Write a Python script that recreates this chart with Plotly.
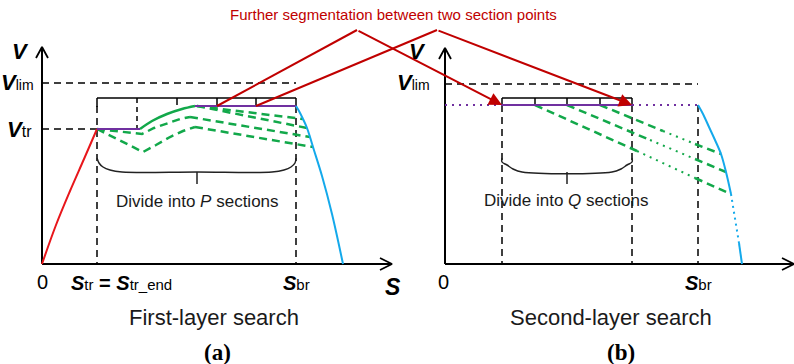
import plotly.graph_objects as go

# ---------------------------------------------------------------
# Schematic values (distance s, speed v) for each panel
# ---------------------------------------------------------------
# Panel (a): first-layer search
A_S_TR = 55
A_S_BR = 254
A_V_TR = 135
A_V_CRUISE = 158
A_V_LIM = 181
A_V_FRAME = 166
A_SECTIONS = [55, 95, 135, 175, 214, 254]

accel_s = [0, 14, 28, 42, 55]
accel_v = [0, 39, 73, 105, 135]

cruise_low_s = [55, 98]
cruise_low_v = [135, 135]
climb_s = [98, 110, 125, 140, 153]
climb_v = [135, 143, 150, 155, 158]
cruise_high_s = [153, 254]
cruise_high_v = [158, 158]

trial_a_s = [55, 100, 112, 126, 138, 148]
trial_a_v = [135, 130, 136, 141, 145, 147]
trial_b_s = [55, 101, 114, 128, 141, 153]
trial_b_v = [135, 112, 119, 127, 133, 137]

decel_a = [
    ([155, 261], [158, 145]),
    ([155, 265], [158, 136]),
    ([148, 268], [147, 127]),
    ([153, 271], [137, 117]),
]

brake_a_s = [254, 257, 261, 265, 268, 271, 280, 290, 301]
brake_a_v = [158, 153, 145, 136, 127, 117, 88, 50, 0]

brace_a_s = [55, 57, 61, 68, 80, 155, 230, 242, 249, 253, 254]
brace_a_v = [106, 101, 97, 94, 92, 92, 92, 94, 97, 101, 106]

# Panel (b): second-layer search
B_S_START = 57
B_S_END = 187
B_S_BR = 253
B_V_CRUISE = 159
B_V_LIM = 180
B_V_FRAME = 166
B_SECTIONS = [57, 90, 122, 155, 187]

# each decel line: dashed / dotted / dashed pieces
decel_b = [
    ([90, 192, 250, 286], [159, 113, 86, 70]),
    ([122, 205, 250, 281], [159, 124, 105, 92]),
    ([155, 218, 250, 276], [159, 133, 120, 110]),
]

brake_b_s = [253, 258, 264, 270, 276, 281, 286]
brake_b_v = [159, 150, 137, 124, 110, 92, 70]
brake_b_dot_s = [286, 294]
brake_b_dot_v = [70, 21]
brake_b_tail_s = [294, 297]
brake_b_tail_v = [21, 0]

brace_b_s = [57, 57, 62, 68, 77, 167, 176, 182, 187, 187]
brace_b_v = [106, 102, 99, 95, 92, 92, 95, 99, 102, 106]

# ---------------------------------------------------------------
# Styling
# ---------------------------------------------------------------
W, H = 794, 364
ORIGIN_A_PX = 42     # pixel column of panel (a) s = 0
ORIGIN_B_PX = 445    # pixel column of panel (b) s = 0
V_ZERO_FROM_BOTTOM = 100

RED = "#E8161B"
BLUE = "#14A9EB"
GREEN = "#12A84A"
PURPLE = "#7030A0"
DARKRED = "#C00000"
BLACK = "#000000"
TXT = "#1a1a1a"
FONT = "Liberation Sans, Arial, sans-serif"
SERIF = "Liberation Serif, Times New Roman, serif"

BLACK_DASH = "7px,5px"
GREEN_DASH = "8px,5px"
DOTS = "2px,5px"

fig = go.Figure()


def line(s, v, color, width=2, dash="solid", axis="x", spline=False):
    fig.add_trace(go.Scatter(
        x=s, y=v, mode="lines", xaxis=axis, yaxis="y",
        line=dict(color=color, width=width, dash=dash,
                  shape="spline" if spline else "linear", smoothing=1.0),
        hoverinfo="skip", showlegend=False))


def axes_frame(axis, x_end, y_end):
    line([0, 0], [0, y_end], BLACK, 2, axis=axis)
    line([-6, 0, 6], [y_end - 11, y_end, y_end - 11], BLACK, 1.8, axis=axis)
    line([0, x_end], [0, 0], BLACK, 2, axis=axis)
    line([x_end - 12, x_end, x_end - 12], [6, 0, -6], BLACK, 1.8, axis=axis)


# ---------------- Panel (a) ----------------
axes_frame("x", 350, 217)
line([0, A_S_BR], [A_V_LIM, A_V_LIM], BLACK, 1.5, BLACK_DASH)
line([0, A_S_TR], [A_V_TR, A_V_TR], BLACK, 1.5, BLACK_DASH)
for s in (A_S_TR, A_S_BR):
    line([s, s], [A_V_CRUISE, 0], BLACK, 1.5, BLACK_DASH)
    line([s, s], [A_V_FRAME, A_V_CRUISE - 1], BLACK, 1.5)
line([A_S_TR, A_S_BR], [A_V_FRAME, A_V_FRAME], BLACK, 1.5)
line([A_SECTIONS[1]] * 2, [A_V_FRAME, A_V_TR], BLACK, 1.5, "5px,4px")
for s in A_SECTIONS[2:-1]:
    line([s, s], [A_V_FRAME, A_V_CRUISE + 1], BLACK, 1.5)

line(brace_a_s, brace_a_v, "#222222", 1.5, spline=True)
line([155, 155], [92, 80], "#222222", 1.5)

for s, v in decel_a:
    line(s, v, GREEN, 2.5, GREEN_DASH)
line(trial_a_s, trial_a_v, GREEN, 2.5, GREEN_DASH)
line(trial_b_s, trial_b_v, GREEN, 2.5, GREEN_DASH)
line(climb_s, climb_v, GREEN, 2.5, spline=True)
line(accel_s, accel_v, RED, 2, spline=True)
line(cruise_low_s, cruise_low_v, PURPLE, 2)
line(cruise_high_s, cruise_high_v, PURPLE, 2)
line(brake_a_s, brake_a_v, BLUE, 2, spline=True)

# ---------------- Panel (b) ----------------
axes_frame("x2", 349, 216)
line([0, B_S_BR], [B_V_LIM, B_V_LIM], BLACK, 1.5, BLACK_DASH, axis="x2")
for s in (B_S_START, B_S_END, B_S_BR):
    line([s, s], [B_V_CRUISE, 0], BLACK, 1.5, BLACK_DASH, axis="x2")
for s in (B_S_START, B_S_END):
    line([s, s], [B_V_FRAME, B_V_CRUISE - 1], BLACK, 1.5, axis="x2")
line([B_S_START, B_S_END], [B_V_FRAME, B_V_FRAME], BLACK, 1.5, axis="x2")
for s in B_SECTIONS[1:-1]:
    line([s, s], [B_V_FRAME, B_V_CRUISE + 1], BLACK, 1.5, axis="x2")

line(brace_b_s, brace_b_v, "#222222", 1.5, axis="x2", spline=True)
line([122, 122], [92, 80], "#222222", 1.5, axis="x2")

for s, v in decel_b:
    line(s[0:2], v[0:2], GREEN, 2.5, GREEN_DASH, axis="x2")
    line(s[1:3], v[1:3], GREEN, 2, DOTS, axis="x2")
    line(s[2:4], v[2:4], GREEN, 2.5, GREEN_DASH, axis="x2")

line([0, B_S_START], [B_V_CRUISE] * 2, PURPLE, 2, DOTS, axis="x2")
line([B_S_END, B_S_BR], [B_V_CRUISE] * 2, PURPLE, 2, DOTS, axis="x2")
line([B_S_START, B_S_END], [B_V_CRUISE] * 2, PURPLE, 2, axis="x2")
line(brake_b_s, brake_b_v, BLUE, 2, axis="x2", spline=True)
line(brake_b_dot_s, brake_b_dot_v, BLUE, 2, "2px,4px", axis="x2")
line(brake_b_tail_s, brake_b_tail_v, BLUE, 2, axis="x2")

# ---------------- Callout linking the panels ----------------
APEX_PX = [357, 437]
APEX_V = 234
callout_from = [A_SECTIONS[3], A_SECTIONS[4]]
callout_to = [B_S_START, B_S_END]
for s_from, apex_px, s_to in zip(callout_from, APEX_PX, callout_to):
    line([s_from, apex_px - ORIGIN_A_PX], [A_V_CRUISE, APEX_V], DARKRED, 2)
    fig.add_annotation(
        x=s_to, y=B_V_CRUISE, xref="x2", yref="y",
        ax=apex_px - ORIGIN_B_PX, ay=APEX_V, axref="x2", ayref="y",
        text="", showarrow=True, arrowhead=2, arrowsize=1.3,
        arrowwidth=2, arrowcolor=DARKRED)

# ---------------- Text ----------------
def label(text, x, y, axis="x", size=17, xanchor="center", color=BLACK,
          family=FONT):
    fig.add_annotation(x=x, y=y, xref=axis, yref="y", text=text,
                       showarrow=False, xanchor=xanchor, yanchor="middle",
                       font=dict(family=family, size=size, color=color))


def sym(letter, sub="", sub_size=15):
    s = f"<b><i>{letter}</i></b>"
    if sub:
        s += f"<span style='font-size:{sub_size}px'>{sub}</span>"
    return s


# panel (a)
label(sym("V"), -22, 213, size=22)
label(sym("V", "lim", 14), -6, 182, size=22, xanchor="right")
label(sym("V", "tr", 16), -8, 135, size=22, xanchor="right")
label("0", 0, -18, size=20)
label(sym("S", "tr") + " <b>=</b> " + sym("S", "tr_end"), 27, -19,
      size=20, xanchor="left")
label(sym("S", "br"), 254, -19, size=20)
label(sym("S"), 351, -23, size=23)
label("Divide into <i>P</i> sections", 155, 63, size=17, color=TXT)
label("First-layer search", 172, -53, size=22, color=TXT)
label("<b>(a)</b>", 175, -88, size=23, family=SERIF)

# panel (b)
label(sym("V"), -28, 213, axis="x2", size=22)
label(sym("V", "lim", 14), -13, 182, axis="x2", size=22, xanchor="right")
label("0", -2, -18, axis="x2", size=20)
label(sym("S", "br"), 253, -19, axis="x2", size=20)
label(sym("S"), 350, -23, axis="x2", size=23)
label("Divide into <i>Q</i> sections", 121, 64, axis="x2", size=17, color=TXT)
label("Second-layer search", 166, -53, axis="x2", size=22, color=TXT)
label("<b>(b)</b>", 176, -88, axis="x2", size=23, family=SERIF)

fig.add_annotation(x=393 / W, y=1 - 15 / H, xref="paper", yref="paper",
                   text="Further segmentation between two section points",
                   showarrow=False, xanchor="center", yanchor="middle",
                   font=dict(family=FONT, size=15, color=DARKRED))

# ---------------- Layout ----------------
hidden = dict(visible=False, showgrid=False, zeroline=False, fixedrange=True)
fig.update_layout(
    width=W, height=H,
    margin=dict(l=0, r=0, t=0, b=0),
    paper_bgcolor="white", plot_bgcolor="white",
    xaxis=dict(domain=[0, 1], range=[-ORIGIN_A_PX, W - ORIGIN_A_PX], **hidden),
    xaxis2=dict(domain=[0, 1], range=[-ORIGIN_B_PX, W - ORIGIN_B_PX],
                overlaying="x", anchor="y", **hidden),
    yaxis=dict(domain=[0, 1], range=[-V_ZERO_FROM_BOTTOM, H - V_ZERO_FROM_BOTTOM],
               **hidden),
    showlegend=False,
)

fig.write_html("out.html", config=dict(displayModeBar=False))
